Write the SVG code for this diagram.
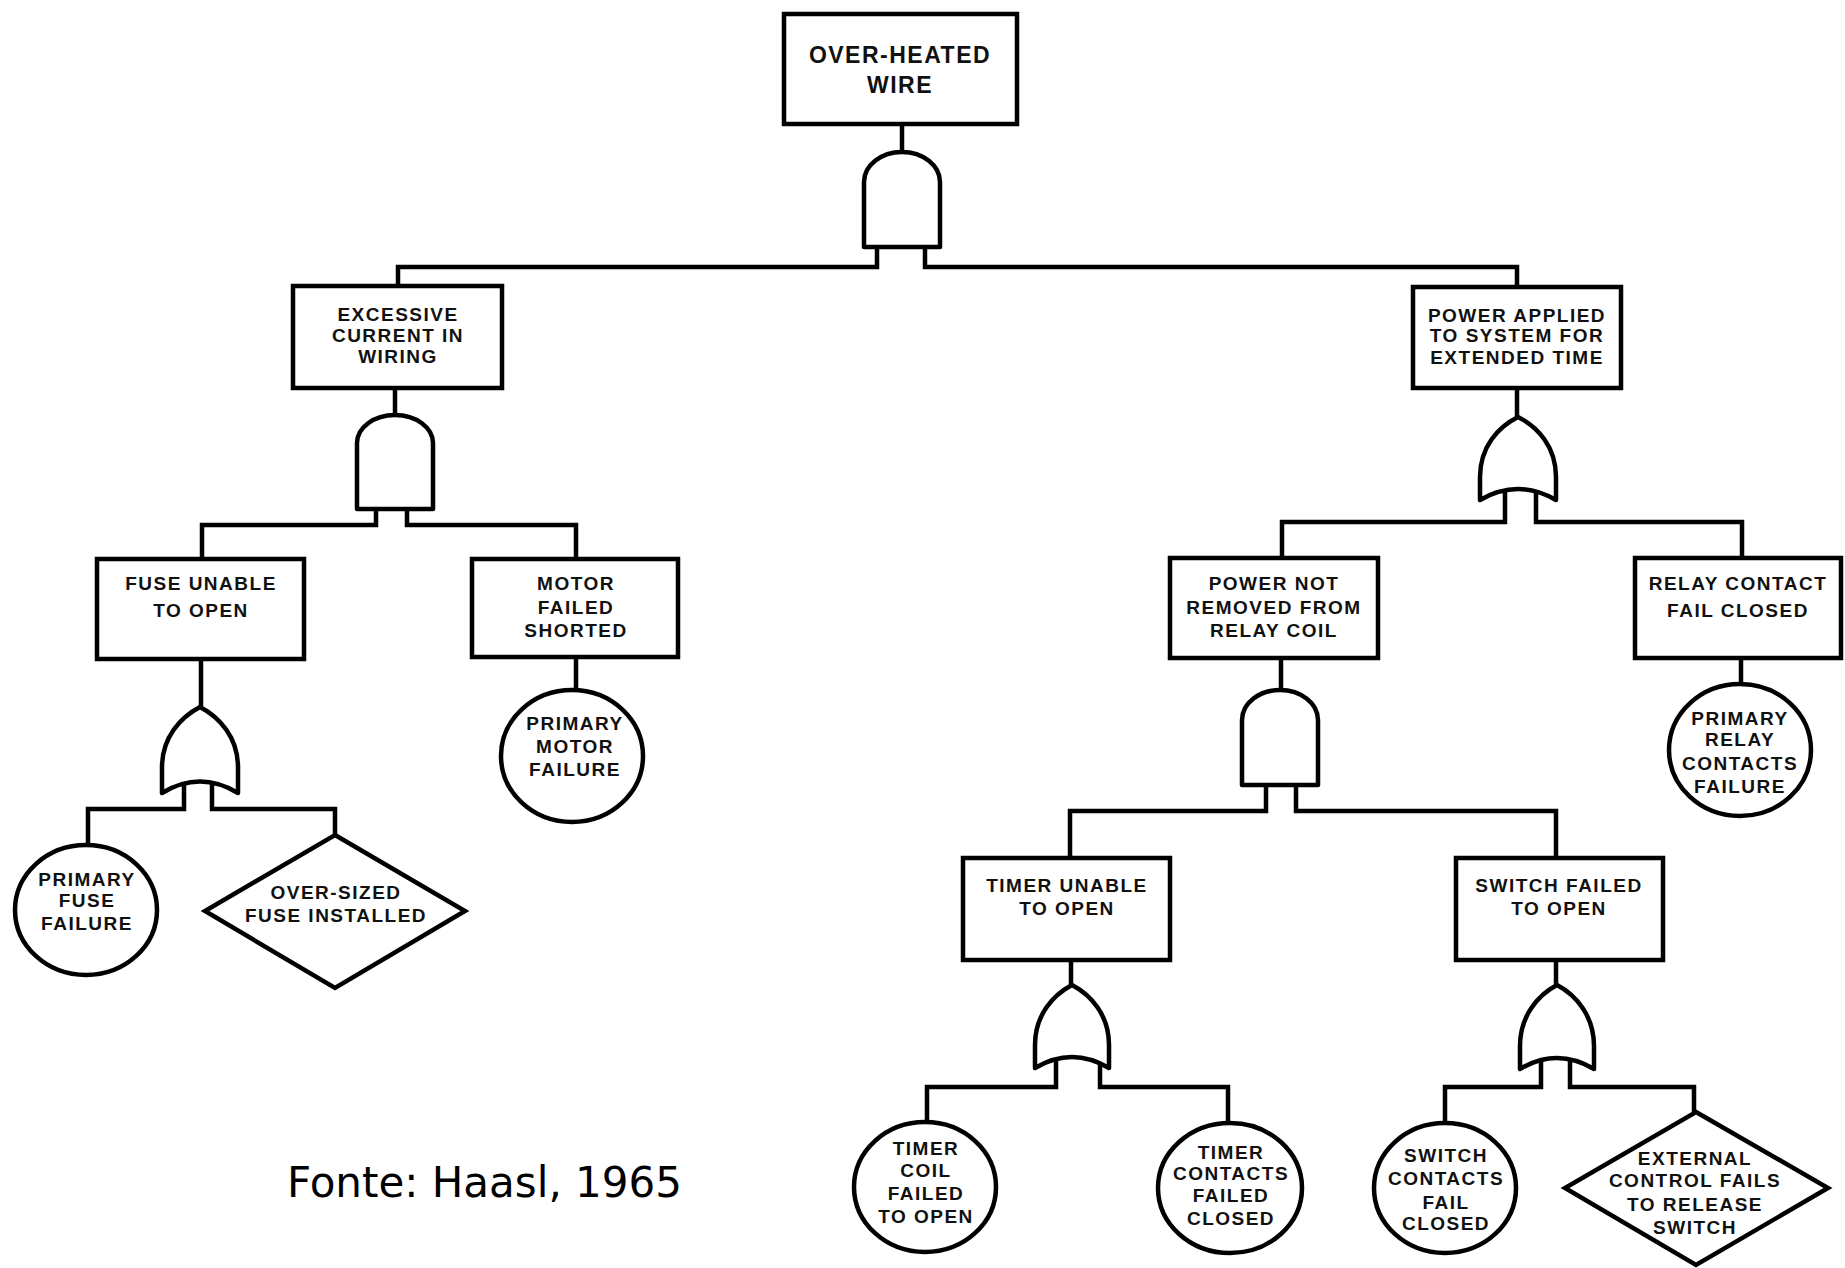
<svg xmlns="http://www.w3.org/2000/svg" width="1845" height="1268" viewBox="0 0 1845 1268">
<style>
.box{fill:#fff;stroke:#000;stroke-width:4.5}
.gate{fill:#fff;stroke:#000;stroke-width:4.5;stroke-linejoin:round}
.ev{fill:#fff;stroke:#000;stroke-width:4.5}
.ln{fill:none;stroke:#000;stroke-width:4.5;stroke-linejoin:miter}
.t{font-family:"Liberation Sans",Arial,sans-serif;font-weight:bold;font-size:19px;letter-spacing:1.5px;text-anchor:middle;fill:#111}
.tt{font-family:"Liberation Sans",Arial,sans-serif;font-weight:bold;font-size:23px;letter-spacing:1.5px;text-anchor:middle;fill:#111}
.src{font-family:"DejaVu Sans",Verdana,sans-serif;font-size:42px;fill:#000}
</style>
<rect width="1845" height="1268" fill="#fff"/>

<g id="connectors">
<path class="ln" d="M902,124 V152"/>
<path class="ln" d="M877,247 V267 H398 V286"/>
<path class="ln" d="M925,247 V267 H1517 V287"/>
<path class="ln" d="M395,388 V415"/>
<path class="ln" d="M376,509 V525 H202 V559"/>
<path class="ln" d="M407,509 V525 H576 V559"/>
<path class="ln" d="M1517,388 V417"/>
<path class="ln" d="M1505,488 V522 H1282 V558"/>
<path class="ln" d="M1536,488 V522 H1742 V558"/>
<path class="ln" d="M201,659 V707"/>
<path class="ln" d="M184,783 V809 H88 V845"/>
<path class="ln" d="M212,783 V809 H335 V835"/>
<path class="ln" d="M576,657 V690"/>
<path class="ln" d="M1281,658 V690"/>
<path class="ln" d="M1266,785 V811 H1070 V858"/>
<path class="ln" d="M1296,785 V811 H1556 V858"/>
<path class="ln" d="M1741,658 V684"/>
<path class="ln" d="M1071,960 V985"/>
<path class="ln" d="M1056,1058 V1087 H927 V1122"/>
<path class="ln" d="M1100,1058 V1087 H1228 V1122"/>
<path class="ln" d="M1556,960 V985"/>
<path class="ln" d="M1541,1059 V1087 H1445 V1122"/>
<path class="ln" d="M1570,1059 V1087 H1694 V1112"/>
</g>

<g id="gates">
<path id="and-top" class="gate" d="M864,247 V182 A38,30 0 0 1 940,182 V247 Z"/>
<path id="and-excessive" class="gate" d="M357,509 V443 A38,28 0 0 1 433,443 V509 Z"/>
<path id="or-power" class="gate" d="M1480,500 L1480,477 C1480,447 1498,427 1518,417 C1538,427 1556,447 1556,477 L1556,500 Q1518,478 1480,500 Z"/>
<path id="or-fuse" class="gate" d="M162,793 L162,767 C162,737 181,717 200,707 C219,717 238,737 238,767 L238,793 Q200,770 162,793 Z"/>
<path id="and-powernot" class="gate" d="M1242,785 V720 A38,30 0 0 1 1318,720 V785 Z"/>
<path id="or-timer" class="gate" d="M1035,1068 L1035,1045 C1035,1015 1053,995 1072,985 C1091,995 1109,1015 1109,1045 L1109,1068 Q1072,1046 1035,1068 Z"/>
<path id="or-switch" class="gate" d="M1520,1069 L1520,1046 C1520,1016 1538,995 1557,985 C1576,995 1594,1016 1594,1046 L1594,1069 Q1557,1047 1520,1069 Z"/>
</g>

<g id="n-overheated">
<rect class="box" x="784" y="14" width="233" height="110"/>
<text class="tt" x="900" y="63">OVER-HEATED</text>
<text class="tt" x="900" y="93">WIRE</text>
</g>

<g id="n-excessive">
<rect class="box" x="293" y="286" width="209" height="102"/>
<text class="t" x="398" y="321">EXCESSIVE</text>
<text class="t" x="398" y="342">CURRENT IN</text>
<text class="t" x="398" y="363">WIRING</text>
</g>

<g id="n-powerapplied">
<rect class="box" x="1413" y="287" width="208" height="101"/>
<text class="t" x="1517" y="322">POWER APPLIED</text>
<text class="t" x="1517" y="342">TO SYSTEM FOR</text>
<text class="t" x="1517" y="364">EXTENDED TIME</text>
</g>

<g id="n-fuse">
<rect class="box" x="97" y="559" width="207" height="100"/>
<text class="t" x="201" y="590">FUSE UNABLE</text>
<text class="t" x="201" y="617">TO OPEN</text>
</g>

<g id="n-motor">
<rect class="box" x="472" y="559" width="206" height="98"/>
<text class="t" x="576" y="590">MOTOR</text>
<text class="t" x="576" y="614">FAILED</text>
<text class="t" x="576" y="637">SHORTED</text>
</g>

<g id="n-primaryfuse">
<ellipse class="ev" cx="86" cy="910" rx="71" ry="65"/>
<text class="t" x="87" y="886">PRIMARY</text>
<text class="t" x="87" y="907">FUSE</text>
<text class="t" x="87" y="930">FAILURE</text>
</g>

<g id="n-oversized">
<polygon class="ev" points="335,835 465,911 335,988 205,911"/>
<text class="t" x="336" y="899">OVER-SIZED</text>
<text class="t" x="336" y="922">FUSE INSTALLED</text>
</g>

<g id="n-primarymotor">
<ellipse class="ev" cx="572" cy="756" rx="71" ry="66"/>
<text class="t" x="575" y="730">PRIMARY</text>
<text class="t" x="575" y="753">MOTOR</text>
<text class="t" x="575" y="776">FAILURE</text>
</g>

<g id="n-powernot">
<rect class="box" x="1170" y="558" width="208" height="100"/>
<text class="t" x="1274" y="590">POWER NOT</text>
<text class="t" x="1274" y="614">REMOVED FROM</text>
<text class="t" x="1274" y="637">RELAY COIL</text>
</g>

<g id="n-relay">
<rect class="box" x="1635" y="558" width="206" height="100"/>
<text class="t" x="1738" y="590">RELAY CONTACT</text>
<text class="t" x="1738" y="617">FAIL CLOSED</text>
</g>

<g id="n-primaryrelay">
<ellipse class="ev" cx="1740" cy="750" rx="71" ry="66"/>
<text class="t" x="1740" y="725">PRIMARY</text>
<text class="t" x="1740" y="746">RELAY</text>
<text class="t" x="1740" y="770">CONTACTS</text>
<text class="t" x="1740" y="793">FAILURE</text>
</g>

<g id="n-timer">
<rect class="box" x="963" y="858" width="207" height="102"/>
<text class="t" x="1067" y="892">TIMER UNABLE</text>
<text class="t" x="1067" y="915">TO OPEN</text>
</g>

<g id="n-switch">
<rect class="box" x="1456" y="858" width="207" height="102"/>
<text class="t" x="1559" y="892">SWITCH FAILED</text>
<text class="t" x="1559" y="915">TO OPEN</text>
</g>

<g id="n-timercoil">
<ellipse class="ev" cx="925" cy="1187" rx="71" ry="65"/>
<text class="t" x="926" y="1155">TIMER</text>
<text class="t" x="926" y="1177">COIL</text>
<text class="t" x="926" y="1200">FAILED</text>
<text class="t" x="926" y="1223">TO OPEN</text>
</g>

<g id="n-timercontacts">
<ellipse class="ev" cx="1230" cy="1188" rx="72" ry="65"/>
<text class="t" x="1231" y="1159">TIMER</text>
<text class="t" x="1231" y="1180">CONTACTS</text>
<text class="t" x="1231" y="1202">FAILED</text>
<text class="t" x="1231" y="1225">CLOSED</text>
</g>

<g id="n-switchcontacts">
<ellipse class="ev" cx="1445" cy="1188" rx="71" ry="65"/>
<text class="t" x="1446" y="1162">SWITCH</text>
<text class="t" x="1446" y="1185">CONTACTS</text>
<text class="t" x="1446" y="1209">FAIL</text>
<text class="t" x="1446" y="1230">CLOSED</text>
</g>

<g id="n-external">
<polygon class="ev" points="1696,1112 1828,1188 1696,1265 1565,1188"/>
<text class="t" x="1695" y="1165">EXTERNAL</text>
<text class="t" x="1695" y="1187">CONTROL FAILS</text>
<text class="t" x="1695" y="1211">TO RELEASE</text>
<text class="t" x="1695" y="1234">SWITCH</text>
</g>

<text class="src" x="287" y="1197">Fonte: Haasl, 1965</text>
</svg>
